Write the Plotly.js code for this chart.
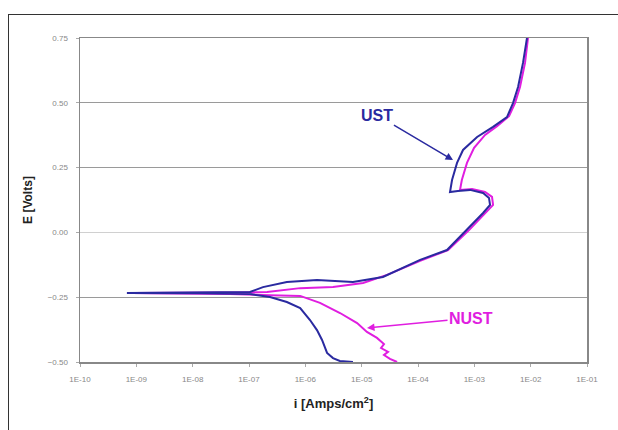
<!DOCTYPE html>
<html>
<head>
<meta charset="utf-8">
<script src="https://cdn.plot.ly/plotly-3.0.1.min.js"></script>
<style>
html,body{margin:0;padding:0;background:#fff;}
#wrap{position:relative;width:618px;height:430px;overflow:hidden;}
#chart{position:absolute;left:0;top:0;width:618px;height:430px;}
#frame{position:absolute;left:8px;top:14px;width:640px;height:440px;border:1px solid #333;pointer-events:none;}
</style>
</head>
<body>
<div id="wrap"><div id="chart"></div><div id="frame"></div></div>
<script>
// UST curve: current density (A/cm2) and potential (V)
const ustI = [7.0e-6, 4.1e-6, 3.1e-6, 2.43e-6, 1.98e-6, 1.61e-6, 1.21e-6, 8.1e-7, 4.7e-7, 2.36e-7, 1.04e-7, 1.35e-8, 6.8e-10,
  1.35e-8, 1.04e-7, 1.77e-7, 4.7e-7, 1.61e-6, 7.0e-6, 2.39e-5, 1.09e-4, 3.27e-4, 7.4e-4, 1.43e-3, 1.90e-3, 1.82e-3, 1.43e-3,
  8.4e-4, 5.1e-4, 3.70e-4, 4.02e-4, 4.93e-4, 6.3e-4, 1.12e-3, 2.15e-3, 3.80e-3, 4.86e-3, 5.97e-3, 7.31e-3, 8.6e-3];
const ustE = [-0.500, -0.496, -0.485, -0.465, -0.415, -0.377, -0.338, -0.292, -0.2685, -0.249, -0.238, -0.235, -0.234,
  -0.233, -0.230, -0.211, -0.191, -0.184, -0.191, -0.172, -0.106, -0.068, 0.009, 0.075, 0.106, 0.133, 0.152,
  0.164, 0.160, 0.156, 0.202, 0.268, 0.318, 0.368, 0.407, 0.445, 0.499, 0.561, 0.654, 0.750];

// NUST curve
const nustI = [4.25e-5, 3.18e-5, 2.49e-5, 2.94e-5, 2.21e-5, 2.49e-5, 1.87e-5, 1.24e-5, 8.3e-6, 4.13e-6, 1.82e-6, 8.1e-7, 2.36e-7, 4.6e-8, 1.75e-9, 8.7e-10,
  4.6e-8, 2.09e-7, 8.1e-7, 3.1e-6, 1.06e-5, 2.82e-5, 1.09e-4, 3.41e-4, 8.05e-4, 1.61e-3, 2.15e-3, 2.06e-3, 1.55e-3, 9.1e-4, 5.57e-4,
  6.0e-4, 7.4e-4, 9.9e-4, 1.55e-3, 2.53e-3, 4.13e-3, 5.27e-3, 6.47e-3, 7.94e-3, 8.97e-3];
const nustE = [-0.500, -0.488, -0.473, -0.461, -0.446, -0.431, -0.407, -0.384, -0.350, -0.311, -0.272, -0.245, -0.242, -0.238, -0.235, -0.234,
  -0.232, -0.230, -0.215, -0.211, -0.195, -0.164, -0.110, -0.068, 0.009, 0.075, 0.106, 0.137, 0.156, 0.167, 0.164,
  0.202, 0.268, 0.326, 0.376, 0.410, 0.449, 0.499, 0.561, 0.654, 0.750];

const xTickVals = [1e-10, 1e-9, 1e-8, 1e-7, 1e-6, 1e-5, 1e-4, 1e-3, 1e-2, 1e-1];
const xTickText = ["1E-10", "1E-09", "1E-08", "1E-07", "1E-06", "1E-05", "1E-04", "1E-03", "1E-02", "1E-01"];
const yTickVals = [-0.50, -0.25, 0.00, 0.25, 0.50, 0.75];

const blue = '#2a2aa0';
const mag = '#e01ee0';
const font = 'Arial, "Liberation Sans", sans-serif';

const traces = [
  {x: nustI, y: nustE, type: 'scatter', mode: 'lines', name: 'NUST', line: {color: mag, width: 2}},
  {x: ustI, y: ustE, type: 'scatter', mode: 'lines', name: 'UST', line: {color: blue, width: 2}}
];

const layout = {
  width: 618, height: 430,
  margin: {l: 80, r: 31, t: 38, b: 68},
  paper_bgcolor: '#fff', plot_bgcolor: '#fff',
  showlegend: false,
  font: {family: font, color: '#777', size: 8},
  xaxis: {
    type: 'log', range: [-10, -1],
    tickvals: xTickVals, ticktext: xTickText,
    showgrid: false, zeroline: false,
    showline: true, mirror: true, linecolor: '#888', linewidth: 1.5,
    ticks: 'outside', ticklen: 3, tickcolor: '#aaa',
    ticklabelstandoff: 6,
    tickfont: {family: font, size: 8, color: '#888'},
    title: {text: '<b>i [Amps/cm<sup>2</sup>]</b>', font: {family: font, size: 13, color: '#222'}, standoff: 16}
  },
  yaxis: {
    range: [-0.5, 0.75],
    tickvals: yTickVals, tickformat: '.2f',
    showgrid: true, gridcolor: '#9a9a9a', gridwidth: 1,
    zeroline: true, zerolinecolor: '#d0d0d0', zerolinewidth: 1,
    showline: true, mirror: true, linecolor: '#888', linewidth: 1.5,
    ticks: 'outside', ticklen: 3, tickcolor: '#aaa',
    ticklabelstandoff: 6,
    tickfont: {family: font, size: 8, color: '#888'},
    title: {text: '<b>E [Volts]</b>', font: {family: font, size: 12, color: '#222'}, standoff: 12}
  },
  annotations: [
    {x: -3.378, y: 0.279, xref: 'x', yref: 'y', text: '<b>UST</b>', showarrow: true,
     ax: -76, ay: -45, arrowhead: 2, arrowsize: 1, arrowwidth: 1.5, arrowcolor: blue,
     font: {family: font, size: 16, color: blue}},
    {x: -4.905, y: -0.369, xref: 'x', yref: 'y', text: '<b>NUST</b>', showarrow: true,
     ax: 104, ay: -10, arrowhead: 2, arrowsize: 1, arrowwidth: 1.5, arrowcolor: mag,
     font: {family: font, size: 16, color: mag}}
  ]
};

Plotly.newPlot('chart', traces, layout, {displayModeBar: false, staticPlot: true});
</script>
</body>
</html>
